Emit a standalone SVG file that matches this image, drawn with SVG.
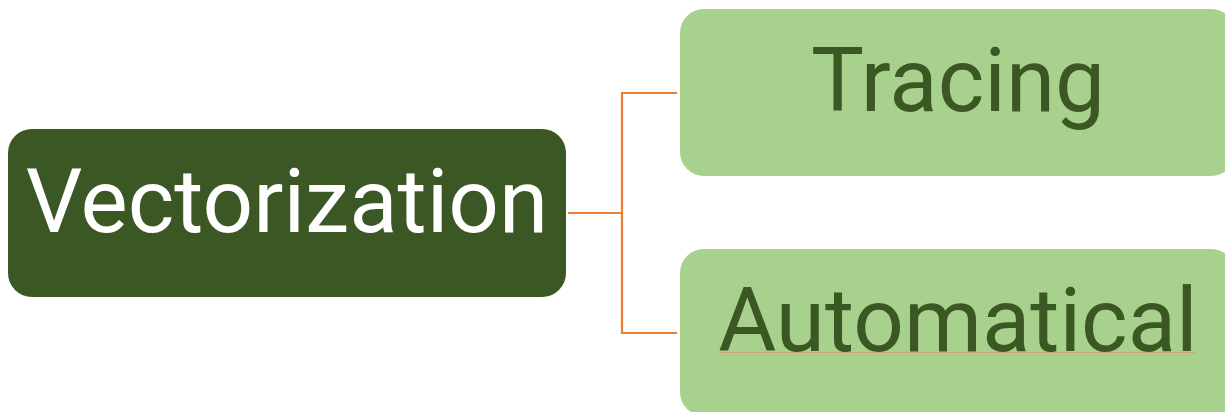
<svg xmlns="http://www.w3.org/2000/svg" width="1225" height="412" viewBox="0 0 1225 412">
<style>
.t{font-family:Roboto,"Liberation Sans",sans-serif;font-size:89px;text-anchor:middle}
.dark{fill:#3B5723}
.light{fill:#A9D18E}
.conn{fill:none;stroke:#ED7D31;stroke-width:2.2}
</style>
<rect width="1225" height="412" fill="#FFFFFF"/>
<g id="connectors">
<polyline class="conn" points="568,213 622,213"/>
<polyline class="conn" points="677,93 622,93 622,333 677,333"/>
</g>
<g id="node-vectorization">
<rect class="dark" x="8" y="129" width="558" height="168" rx="24"/>
<text class="t" x="287" y="232" fill="#FFFFFF">Vectorization</text>
</g>
<g id="node-tracing">
<rect class="light" x="680" y="9" width="555" height="167" rx="24"/>
<text class="t" x="958" y="111" fill="#3B5723">Tracing</text>
</g>
<g id="node-automatical">
<rect class="light" x="680" y="249" width="555" height="167" rx="24"/>
<text class="t" x="958" y="351" fill="#3B5723">Automatical</text>
<line x1="720" y1="352.5" x2="1195" y2="352.5" stroke="#D9956A" stroke-width="1" opacity="0.7"/>
</g>
</svg>
